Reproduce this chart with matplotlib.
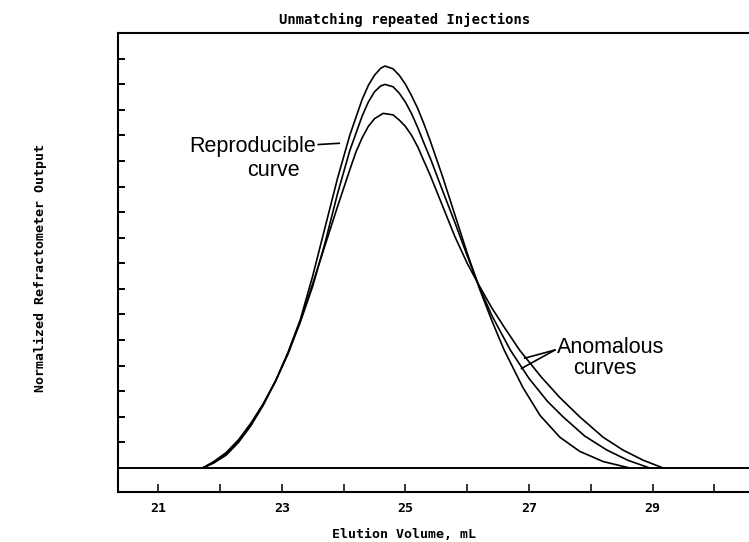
import matplotlib
matplotlib.use('Agg')
import matplotlib.pyplot as plt

# curve A - reproducible (tallest, narrowest)
vol_a = [21.72, 21.9, 22.1, 22.3, 22.5, 22.7, 22.9, 23.1, 23.3, 23.5, 23.7, 23.9, 24.1, 24.3, 24.4, 24.5,
         24.6, 24.67, 24.8, 24.9, 25.0, 25.1, 25.2, 25.3, 25.4, 25.5, 25.6, 25.8, 26.0, 26.2, 26.4, 26.6,
         26.9, 27.18, 27.5, 27.82, 28.2, 28.63]
ri_a = [0.0, 0.2, 0.55, 1.05, 1.7, 2.5, 3.4, 4.5, 5.8, 7.5, 9.4, 11.3, 13.0, 14.4, 14.95, 15.35,
        15.62, 15.71, 15.6, 15.35, 15.0, 14.55, 14.05, 13.45, 12.8, 12.1, 11.4, 9.9, 8.4, 7.0, 5.75, 4.6,
        3.15, 2.05, 1.2, 0.65, 0.25, 0.0]

# curve B - anomalous
vol_b = [21.72, 21.9, 22.1, 22.3, 22.5, 22.7, 22.9, 23.1, 23.3, 23.5, 23.7, 23.9, 24.1, 24.3, 24.4, 24.5,
         24.6, 24.67, 24.8, 24.9, 25.0, 25.1, 25.2, 25.3, 25.42, 25.6, 25.8, 26.0, 26.2, 26.4, 26.7, 27.0,
         27.3, 27.55, 27.9, 28.26, 28.6, 28.95]
ri_b = [0.0, 0.25, 0.6, 1.1, 1.75, 2.5, 3.4, 4.45, 5.7, 7.1, 8.8, 10.7, 12.4, 13.75, 14.3, 14.7,
        14.93, 14.99, 14.9, 14.65, 14.3, 13.85, 13.3, 12.7, 12.0, 10.85, 9.6, 8.3, 7.05, 5.95, 4.6, 3.5,
        2.6, 2.0, 1.25, 0.7, 0.3, 0.0]

# curve C - anomalous (lowest, broadest tail)
vol_c = [21.72, 21.9, 22.1, 22.3, 22.5, 22.7, 22.9, 23.1, 23.3, 23.5, 23.7, 23.9, 24.1, 24.2, 24.3, 24.4,
         24.5, 24.64, 24.8, 24.9, 25.0, 25.1, 25.2, 25.29, 25.4, 25.5, 25.65, 25.8, 26.0, 26.2, 26.4, 26.6,
         26.85, 27.2, 27.5, 27.82, 28.2, 28.52, 28.85, 29.17]
ri_c = [0.0, 0.2, 0.5, 1.0, 1.65, 2.45, 3.4, 4.5, 5.75, 7.2, 8.7, 10.2, 11.65, 12.35, 12.9, 13.35,
        13.65, 13.86, 13.8, 13.6, 13.35, 13.0, 12.55, 12.05, 11.45, 10.85, 9.95, 9.05, 8.0, 7.1, 6.25, 5.5,
        4.6, 3.55, 2.75, 2.0, 1.2, 0.7, 0.3, 0.0]

baseline = 0.0
xtick_major = [21, 23, 25, 27, 29]
xtick_minor = [22, 24, 26, 28, 30]
ytick_pos = list(range(1, 17))

mono = 'DejaVu Sans Mono'
sans = 'Liberation Sans'

fig = plt.figure(figsize=(7.49, 5.42), dpi=100)
ax = fig.add_axes([118 / 749, 1 - 492 / 542, 1 - 118 / 749, (492 - 33) / 542])

ax.axhline(baseline, color='black', lw=1.4)
for v, r in [(vol_a, ri_a), (vol_b, ri_b), (vol_c, ri_c)]:
    ax.plot(v, r, color='black', lw=1.2)

ax.set_xlim(20.35, 30.56)
ax.set_ylim(-0.94, 17)

ax.set_xticks(xtick_major)
ax.set_xticks(xtick_minor, minor=True)
ax.set_xticklabels([str(t) for t in xtick_major], fontfamily=mono, fontweight='bold', fontsize=9.5)
ax.set_yticks(ytick_pos)
ax.set_yticklabels([])
ax.tick_params(axis='x', which='both', direction='in', length=6, width=1.1, pad=7)
ax.tick_params(axis='y', direction='in', length=5, width=1.4)
ax.spines['right'].set_visible(False)
for s in ['left', 'bottom', 'top']:
    ax.spines[s].set_linewidth(1.5)

fig.text(405 / 749, 1 - 20 / 542, 'Unmatching repeated Injections', ha='center', va='center',
         fontfamily=mono, fontweight='bold', fontsize=10)
fig.text(404 / 749, 1 - 535 / 542, 'Elution Volume, mL', ha='center', va='center',
         fontfamily=mono, fontweight='bold', fontsize=9.5)
fig.text(40 / 749, 1 - 268 / 542, 'Normalized Refractometer Output', ha='center', va='center',
         rotation=90, fontfamily=mono, fontweight='bold', fontsize=9.5)

ax.text(23.56, 12.55, 'Reproducible', ha='right', va='center', fontfamily=sans, fontsize=15.5)
ax.text(22.86, 11.62, 'curve', ha='center', va='center', fontfamily=sans, fontsize=15.5)
ax.plot([23.59, 23.93], [12.64, 12.69], color='black', lw=1.2)

ax.text(27.46, 4.69, 'Anomalous', ha='left', va='center', fontfamily=sans, fontsize=15.5)
ax.text(27.71, 3.88, 'curves', ha='left', va='center', fontfamily=sans, fontsize=15.5)
ax.plot([27.42, 26.93], [4.61, 4.29], color='black', lw=1.2)
ax.plot([27.42, 26.88], [4.61, 3.89], color='black', lw=1.2)

fig.savefig('out.png', dpi=100)
